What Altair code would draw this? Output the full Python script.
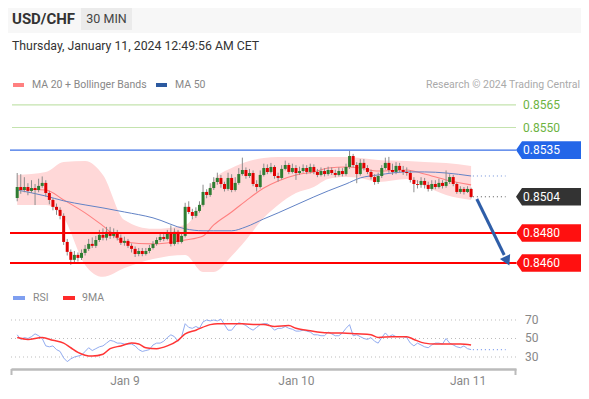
import altair as alt
import numpy as np
import pandas as pd

# ---------------- data ----------------
first_open = 0.85032
closes = [0.85105, 0.85085, 0.85105, 0.85079, 0.85098, 0.85085, 0.85112, 0.85132, 0.85065, 0.85019,
          0.84973, 0.84953, 0.84913, 0.84740, 0.84674, 0.84621, 0.84654, 0.84634, 0.84667, 0.84694,
          0.84727, 0.84714, 0.84753, 0.84787, 0.84768, 0.84807, 0.84780, 0.84801, 0.84768, 0.84734,
          0.84747, 0.84714, 0.84694, 0.84660, 0.84680, 0.84660, 0.84680, 0.84700, 0.84727, 0.84753,
          0.84773, 0.84760, 0.84793, 0.84727, 0.84807, 0.84740, 0.84780, 0.84973, 0.84939, 0.84913,
          0.84946, 0.84986, 0.85072, 0.85052, 0.85098, 0.85138, 0.85165, 0.85125, 0.85092, 0.85165,
          0.85085, 0.85132, 0.85191, 0.85218, 0.85178, 0.85198, 0.85125, 0.85105, 0.85185, 0.85231,
          0.85205, 0.85238, 0.85178, 0.85165, 0.85225, 0.85251, 0.85205, 0.85231, 0.85198, 0.85211,
          0.85231, 0.85205, 0.85238, 0.85205, 0.85185, 0.85211, 0.85191, 0.85218, 0.85198, 0.85185,
          0.85211, 0.85191, 0.85238, 0.85311, 0.85251, 0.85191, 0.85265, 0.85231, 0.85205, 0.85171,
          0.85138, 0.85178, 0.85231, 0.85265, 0.85218, 0.85205, 0.85245, 0.85218, 0.85205, 0.85198,
          0.85152, 0.85125, 0.85119, 0.85145, 0.85119, 0.85092, 0.85125, 0.85105, 0.85132, 0.85112,
          0.85138, 0.85171, 0.85125, 0.85072, 0.85092, 0.85072, 0.85092, 0.85039]
highs = [0.85198, 0.85190, 0.85170, 0.85130, 0.85150, 0.85125, 0.85160, 0.85175, 0.85150, 0.85080,
         0.85030, 0.84995, 0.84970, 0.84930, 0.84760, 0.84690, 0.84680, 0.84670, 0.84690, 0.84720,
         0.84760, 0.84770, 0.84780, 0.84820, 0.84830, 0.84840, 0.84840, 0.84830, 0.84820, 0.84790,
         0.84775, 0.84760, 0.84730, 0.84710, 0.84700, 0.84700, 0.84700, 0.84720, 0.84745, 0.84770,
         0.84800, 0.84795, 0.84820, 0.84850, 0.84830, 0.84820, 0.84800, 0.85000, 0.85010, 0.84960,
         0.84970, 0.85010, 0.85120, 0.85090, 0.85130, 0.85170, 0.85200, 0.85185, 0.85140, 0.85200,
         0.85190, 0.85170, 0.85230, 0.85300, 0.85235, 0.85225, 0.85215, 0.85150, 0.85215, 0.85260,
         0.85255, 0.85265, 0.85250, 0.85200, 0.85250, 0.85280, 0.85265, 0.85260, 0.85250, 0.85240,
         0.85255, 0.85250, 0.85260, 0.85255, 0.85225, 0.85235, 0.85230, 0.85240, 0.85235, 0.85220,
         0.85235, 0.85230, 0.85260, 0.85345, 0.85325, 0.85270, 0.85290, 0.85290, 0.85250, 0.85220,
         0.85190, 0.85200, 0.85250, 0.85300, 0.85305, 0.85260, 0.85270, 0.85265, 0.85245, 0.85235,
         0.85215, 0.85170, 0.85150, 0.85170, 0.85165, 0.85140, 0.85150, 0.85150, 0.85160, 0.85150,
         0.85215, 0.85190, 0.85185, 0.85135, 0.85110, 0.85105, 0.85110, 0.85100]
lows = [0.85010, 0.85060, 0.85070, 0.85050, 0.85065, 0.84985, 0.85070, 0.85100, 0.85040, 0.84990,
        0.84950, 0.84920, 0.84890, 0.84720, 0.84650, 0.84588, 0.84600, 0.84610, 0.84620, 0.84650,
        0.84680, 0.84700, 0.84700, 0.84740, 0.84750, 0.84750, 0.84760, 0.84765, 0.84750, 0.84720,
        0.84715, 0.84700, 0.84670, 0.84640, 0.84645, 0.84645, 0.84650, 0.84665, 0.84690, 0.84715,
        0.84740, 0.84745, 0.84750, 0.84710, 0.84715, 0.84725, 0.84730, 0.84770, 0.84925, 0.84890,
        0.84900, 0.84935, 0.84975, 0.85030, 0.85040, 0.85085, 0.85120, 0.85100, 0.85075, 0.85080,
        0.85070, 0.85075, 0.85120, 0.85180, 0.85160, 0.85165, 0.85110, 0.85075, 0.85095, 0.85175,
        0.85190, 0.85195, 0.85160, 0.85140, 0.85155, 0.85215, 0.85190, 0.85195, 0.85152, 0.85185,
        0.85200, 0.85190, 0.85195, 0.85190, 0.85170, 0.85175, 0.85175, 0.85180, 0.85185, 0.85170,
        0.85175, 0.85175, 0.85180, 0.85225, 0.85235, 0.85130, 0.85180, 0.85215, 0.85190, 0.85155,
        0.85120, 0.85125, 0.85165, 0.85220, 0.85200, 0.85185, 0.85190, 0.85200, 0.85185, 0.85180,
        0.85135, 0.85070, 0.85095, 0.85100, 0.85095, 0.85075, 0.85080, 0.85090, 0.85095, 0.85095,
        0.85100, 0.85125, 0.85110, 0.85060, 0.85060, 0.85055, 0.85065, 0.85030]

band_idx = [0, 8, 13, 19, 24, 30, 38, 47, 52, 55, 60, 64, 69, 73, 78, 83, 87, 92, 96, 101, 109, 114, 120, 127]
ma20 = [0.85092, 0.85085, 0.85019, 0.84933, 0.84847, 0.84740, 0.84727, 0.84753, 0.84780, 0.84853, 0.84939, 0.85013,
        0.85098, 0.85145, 0.85185, 0.85205, 0.85231, 0.85238, 0.85231, 0.85211, 0.85218, 0.85191, 0.85152, 0.85119]
bb_upper = [0.85185, 0.85205, 0.85271, 0.85278, 0.85185, 0.84886, 0.84827, 0.84853, 0.85019, 0.85152, 0.85231, 0.85271,
            0.85298, 0.85305, 0.85305, 0.85305, 0.85305, 0.85305, 0.85298, 0.85285, 0.85278, 0.85271, 0.85265, 0.85245]
bb_lower = [0.84986, 0.84986, 0.84900, 0.84587, 0.84508, 0.84567, 0.84627, 0.84654, 0.84541, 0.84541, 0.84647, 0.84753,
            0.84900, 0.84986, 0.85065, 0.85105, 0.85158, 0.85171, 0.85165, 0.85138, 0.85158, 0.85112, 0.85052, 0.85019]
ma50 = [0.85085, 0.85045, 0.85013, 0.84986, 0.84966, 0.84939, 0.84900, 0.84827, 0.84814, 0.84814, 0.84814, 0.84840,
        0.84893, 0.84933, 0.84986, 0.85039, 0.85079, 0.85125, 0.85165, 0.85185, 0.85205, 0.85205, 0.85198, 0.85178]

rsi = [54, 49, 51, 50, 52, 55, 53, 50, 42, 41,
       42, 38, 36, 29, 25, 28, 30, 31, 32, 36,
       40, 37, 39, 41, 42, 45, 48, 47, 45, 45,
       44, 44, 44, 42, 38, 36, 37, 38, 43, 45,
       45, 47, 51, 54, 52, 47, 52, 66, 62, 61,
       63, 61, 68, 70, 69, 70, 69, 71, 65, 59,
       59, 64, 67, 66, 64, 61, 59, 62, 65, 66,
       66, 63, 59, 61, 61, 63, 61, 60, 58, 58,
       59, 58, 57, 54, 54, 53, 53, 57, 55, 53,
       53, 56, 61, 65, 53, 54, 52, 50, 49, 51,
       47, 45, 51, 56, 52, 54, 52, 52, 52, 51,
       45, 42, 45, 43, 41, 40, 43, 45, 45, 44,
       50, 45, 43, 41, 40, 42, 39, 38]
ma9_idx = [0, 3, 7, 10, 13, 15, 17, 19, 21, 24, 26, 29, 32, 34, 36, 39, 42, 45, 47, 50, 54, 56, 59, 63, 67, 69,
           72, 76, 78, 81, 84, 88, 91, 95, 99, 101, 105, 109, 111, 114, 117, 120, 124, 127]
rsi_ma9 = [51, 49, 51, 48, 45, 40, 35, 32, 31, 33, 39, 42, 45, 44, 40, 39, 42, 48, 55, 59, 65, 66, 66, 66, 65, 65,
           63, 64, 61, 59, 57, 56, 56, 55, 54, 51, 52, 52, 49, 45, 44, 44, 44, 43]
rsi_levels = [70, 50, 30]

level_prices = [0.8565, 0.8550, 0.8535, 0.8504, 0.8480, 0.8460]
level_labels = ["0.8565", "0.8550", "0.8535", "0.8504", "0.8480", "0.8460"]
level_kinds = ["target", "target", "resistance", "last", "support", "support"]

proj_times = ["2024-01-11 01:18", "2024-01-11 05:08"]
proj_prices = [0.85025, 0.84653]
head_time = ["2024-01-11 05:33"]
head_price = [0.84613]
ext_times = ["2024-01-11 00:45", "2024-01-11 05:20"]
day_ticks = [9, 10, 11]

# ---------------- tables ----------------
times = pd.date_range("2024-01-08 09:00", periods=len(closes), freq="30min")
opens = [first_open] + closes[:-1]
candles = pd.DataFrame({"t": times, "open": opens, "close": closes, "high": highs, "low": lows})
candles["dir"] = np.where(candles["close"] >= candles["open"], "up", "down")

bands = pd.DataFrame({"t": times[band_idx], "ma20": ma20, "up": bb_upper, "lo": bb_lower, "ma50": ma50})
rsi_df = pd.DataFrame({"t": times, "rsi": rsi})
ma9_df = pd.DataFrame({"t": times[ma9_idx], "v": rsi_ma9})
levels = pd.DataFrame({"p": level_prices, "lab": level_labels, "kind": level_kinds})
rsi_lv = pd.DataFrame({"v": rsi_levels, "lab": [str(v) for v in rsi_levels]})
proj = pd.DataFrame({"t": pd.to_datetime(proj_times), "p": proj_prices})
head = pd.DataFrame({"t": pd.to_datetime(head_time), "p": head_price})
ext = pd.DataFrame({"t": [pd.Timestamp(ext_times[0])], "t2": [pd.Timestamp(ext_times[1])],
                    "last": [level_prices[3]], "ma50": [ma50[-1]], "rsi": [rsi[-1]]})

FONT = "Roboto"
W, H = 505, 274
one = pd.DataFrame({"k": [0]})

xs = alt.Scale(domain=[alt.DateTime(year=2024, month=1, date=8, hours=8, minutes=50),
                       alt.DateTime(year=2024, month=1, date=11, hours=6, minutes=5)])
yp = alt.Scale(domain=[0.83896, 0.85716], zero=False, nice=False)
yr = alt.Scale(domain=[17.03, 313.2], zero=False, nice=False)
XAXIS = alt.Axis(values=[alt.DateTime(year=2024, month=1, date=d) for d in day_ticks],
                 format="%b %-d", title=None, grid=False, ticks=False, labelPadding=6,
                 labelColor="#888", labelFontSize=12, labelFont=FONT,
                 domainColor="#bbbbbb", domainWidth=2.5)


def X(field="t"):
    return alt.X(f"{field}:T", scale=xs, axis=XAXIS)


def YP(field):
    return alt.Y(f"{field}:Q", scale=yp, axis=None)


def YR(field):
    return alt.Y(f"{field}:Q", scale=yr, axis=None)


def txt(s, x, y, size=11, color="#888", weight="normal", align="left"):
    return alt.Chart(one).mark_text(text=s, font=FONT, fontSize=size, color=color, fontWeight=weight,
                                    align=align, baseline="middle").encode(x=alt.value(x), y=alt.value(y))


def rect(x, x2, y, y2, color):
    return alt.Chart(one).mark_rect(color=color).encode(
        x=alt.value(x), x2=alt.value(x2), y=alt.value(y), y2=alt.value(y2))


layers = []
# header
layers.append(rect(-3, 570, -87, -62, "#f7f7f7"))
layers.append(rect(70, 121, -87, -65, "#ebebeb"))
layers.append(txt("USD/CHF", 1, -76, 15, "#333", "bold"))
layers.append(txt("30 MIN", 95.5, -76, 12.5, "#444", align="center"))
layers.append(txt("Thursday, January 11, 2024 12:49:56 AM CET", 1, -49, 12.3, "#333"))
layers.append(rect(2, 13, -12, -8, "#ff8080"))
layers.append(txt("MA 20 + Bollinger Bands", 21, -10, 10.5, "#888"))
layers.append(rect(145, 156, -12, -8, "#2c5aa0"))
layers.append(txt("MA 50", 164, -10, 10.5, "#888"))
layers.append(txt("Research \u00a9 2024 Trading Central", 569, -10, 10.5, "#aaa", align="right"))

# bollinger + MAs
layers.append(alt.Chart(bands).mark_area(color="#ffd8d8", interpolate="monotone").encode(
    x=X(), y=YP("up"), y2="lo:Q"))
layers.append(alt.Chart(bands).mark_line(color="#ff8080", strokeWidth=1.1, interpolate="monotone").encode(
    x=X(), y=YP("ma20")))
layers.append(alt.Chart(bands).mark_line(color="#6283c6", strokeWidth=1, interpolate="monotone").encode(
    x=X(), y=YP("ma50")))

# candles
layers.append(alt.Chart(candles).mark_rule(color="#8c8c8c", strokeWidth=1).encode(
    x=X(), y=YP("low"), y2="high:Q"))
layers.append(alt.Chart(candles).mark_bar(size=3).encode(
    x=X(), y=YP("open"), y2="close:Q",
    color=alt.Color("dir:N", scale=alt.Scale(domain=["up", "down"], range=["#2e7d32", "#e00000"]), legend=None)))

# level lines
lv = alt.Chart(levels)
layers.append(lv.transform_filter(alt.datum.kind == "target").mark_rule(color="#c4e3ae", strokeWidth=1.2).encode(
    x=alt.value(1), x2=alt.value(W), y=YP("p")))
layers.append(lv.transform_filter(alt.datum.kind == "resistance").mark_rule(color="#3a6fe6", strokeWidth=1.3).encode(
    x=alt.value(-1), x2=alt.value(W), y=YP("p")))
layers.append(lv.transform_filter(alt.datum.kind == "support").mark_rule(color="#ff0000", strokeWidth=2).encode(
    x=alt.value(-1), x2=alt.value(W), y=YP("p")))

# dotted extensions
layers.append(alt.Chart(ext).mark_rule(color="#555", strokeWidth=1, strokeDash=[1, 3]).encode(
    x=X(), x2="t2:T", y=YP("last")))
layers.append(alt.Chart(ext).mark_rule(color="#6f8fd8", strokeWidth=1, strokeDash=[1, 3]).encode(
    x=X(), x2="t2:T", y=YP("ma50")))

# label boxes (pointed on the left)
box_shape = "M -1 0 L -0.815 -0.27 L 1 -0.27 L 1 0.27 L -0.815 0.27 Z"
for kind, col in [("resistance", "#2366e8"), ("last", "#333333"), ("support", "#ff1010")]:
    layers.append(lv.transform_filter(alt.datum.kind == kind).mark_point(
        shape=box_shape, size=4225, filled=True, opacity=1, color=col, strokeWidth=0).encode(
        x=alt.value(537.5), y=YP("p")))
layers.append(lv.transform_filter(alt.datum.kind != "target").mark_text(
    font=FONT, fontSize=12, color="white", align="left", baseline="middle").encode(
    x=alt.value(512), y=YP("p"), text="lab:N"))
layers.append(lv.transform_filter(alt.datum.kind == "target").mark_text(
    font=FONT, fontSize=12, color="#6db33f", align="left", baseline="middle").encode(
    x=alt.value(512), y=YP("p"), text="lab:N"))

# projection arrow
layers.append(alt.Chart(proj).mark_line(color="#2f5ea8", strokeWidth=3).encode(x=X(), y=YP("p")))
layers.append(alt.Chart(head).mark_point(shape="triangle-down", filled=True, size=130, angle=334,
                                         color="#2f5ea8", opacity=1).encode(x=X(), y=YP("p")))

# RSI panel
layers.append(rect(2, 14, 201, 205, "#7f9ff0"))
layers.append(txt("RSI", 22, 203, 10.5, "#888"))
layers.append(rect(52, 64, 201, 205, "#ff2a2a"))
layers.append(txt("9MA", 71, 203, 10.5, "#888"))
layers.append(alt.Chart(rsi_lv).mark_rule(color="#bdbdbd", strokeWidth=1, strokeDash=[1, 3]).encode(
    x=alt.value(0), x2=alt.value(W), y=YR("v")))
layers.append(alt.Chart(rsi_lv).mark_text(font=FONT, fontSize=12, color="#888", align="left",
                                          baseline="middle").encode(x=alt.value(514), y=YR("v"), text="lab:N"))
layers.append(alt.Chart(ext).mark_rule(color="#7f9ff0", strokeWidth=1.2, strokeDash=[1, 3]).encode(
    x=X(), x2="t2:T", y=YR("rsi")))
layers.append(alt.Chart(rsi_df).mark_line(color="#92acf0", strokeWidth=1).encode(x=X(), y=YR("rsi")))
layers.append(alt.Chart(ma9_df).mark_line(color="#ff3535", strokeWidth=1.5, interpolate="monotone").encode(
    x=X(), y=YR("v")))
layers.append(alt.Chart(one).mark_rule(color="#bbbbbb", strokeWidth=2).encode(
    x=alt.value(0.5), y=alt.value(274), y2=alt.value(280)))
layers.append(alt.Chart(one).mark_rule(color="#bbbbbb", strokeWidth=2).encode(
    x=alt.value(W - 0.5), y=alt.value(274), y2=alt.value(280)))

chart = alt.layer(*layers).resolve_scale(y="independent", color="independent").properties(
    width=W, height=H,
    padding={"left": 3, "top": 87, "right": 65, "bottom": 19},
    autosize=alt.AutoSizeParams(type="none"),
    background="white",
).configure_view(stroke=None)

chart.save("out.html", embed_options={"renderer": "svg", "actions": False})
